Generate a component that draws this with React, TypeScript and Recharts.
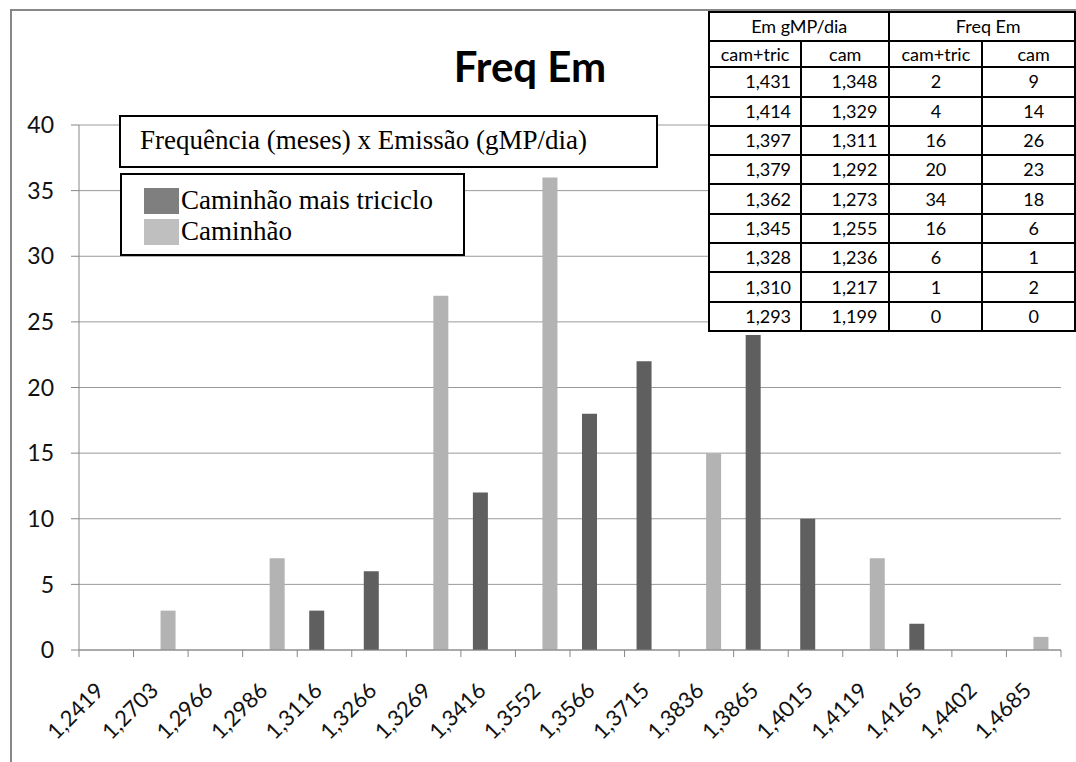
import React from 'react';
import { BarChart, Bar, XAxis, YAxis, CartesianGrid, Legend } from 'recharts';

// emissão (gMP/dia) nas classes do histograma
const categories = [
  '1,2419', '1,2703', '1,2966', '1,2986', '1,3116', '1,3266', '1,3269', '1,3416', '1,3552',
  '1,3566', '1,3715', '1,3836', '1,3865', '1,4015', '1,4119', '1,4165', '1,4402', '1,4685',
];
const camTric = [0, 0, 0, 0, 3, 6, 0, 12, 0, 18, 22, 0, 24, 10, 0, 2, 0, 0];
const cam = [0, 3, 0, 7, 0, 0, 27, 0, 36, 0, 0, 15, 0, 0, 7, 0, 0, 1];
const yTicks = [0, 5, 10, 15, 20, 25, 30, 35, 40];

const seriesNames = ['Caminhão mais triciclo', 'Caminhão'];
const barColors = ['#5f5f5f', '#b3b3b3'];
const swatchColors = ['#7f7f7f', '#bfbfbf'];

// tabela no canto
const emCamTric = ['1,431', '1,414', '1,397', '1,379', '1,362', '1,345', '1,328', '1,310', '1,293'];
const emCam = ['1,348', '1,329', '1,311', '1,292', '1,273', '1,255', '1,236', '1,217', '1,199'];
const freqCamTric = [2, 4, 16, 20, 34, 16, 6, 1, 0];
const freqCam = [9, 14, 26, 23, 18, 6, 1, 2, 0];

const data = categories.map((name, i) => ({ name, camTric: camTric[i], cam: cam[i] }));

const AXIS = '#878787';
const SANS = 'Lato, "Open Sans", sans-serif';
const SERIF = '"Liberation Serif", "Times New Roman", serif';

const CategoryTick = (props: any) => {
  const { x, y, payload, index, visibleTicksCount } = props;
  const half = payload.offset || 0;
  const axisY = y - 8;
  const bx = x - 1;
  const by = axisY + 42;
  return (
    <g>
      <line x1={x - half} x2={x - half} y1={axisY} y2={axisY + 7} stroke={AXIS} />
      {index === visibleTicksCount - 1 && (
        <line x1={x + half} x2={x + half} y1={axisY} y2={axisY + 7} stroke={AXIS} />
      )}
      <text
        x={bx}
        y={by}
        transform={`rotate(-45 ${bx} ${by})`}
        textAnchor="end"
        fontFamily={SANS}
        fontSize={22}
        fill="#111"
      >
        {payload.value}
      </text>
    </g>
  );
};

const LegendBox = () => (
  <div
    style={{
      boxSizing: 'border-box',
      width: 345,
      height: 83,
      border: '2px solid #000',
      background: '#fff',
      paddingTop: 10,
      paddingLeft: 22,
      fontFamily: SERIF,
      fontSize: 27,
      color: '#000',
    }}
  >
    {seriesNames.map((n, i) => (
      <div key={n} style={{ display: 'flex', alignItems: 'center', height: 31, lineHeight: '31px' }}>
        <span style={{ display: 'inline-block', width: 35, height: 26, background: swatchColors[i], marginRight: 2 }} />
        <span>{n}</span>
      </div>
    ))}
  </div>
);

const cell: React.CSSProperties = {
  border: '2px solid #000',
  padding: 0,
  height: 27.3,
  lineHeight: '27px',
};

export default function App() {
  return (
    <div
      style={{
        position: 'absolute',
        left: 0,
        top: 0,
        width: 1076,
        height: 762,
        overflow: 'hidden',
        background: '#fff',
      }}
    >
      {/* moldura do gráfico */}
      <div
        style={{
          position: 'absolute',
          left: 10,
          top: 9,
          width: 1100,
          height: 800,
          borderLeft: `2px solid ${AXIS}`,
          borderTop: `2px solid ${AXIS}`,
        }}
      />
      <div style={{ position: 'absolute', left: 0, top: 0 }}>
        <BarChart
          width={1076}
          height={762}
          data={data}
          margin={{ top: 125, right: 15, bottom: 32, left: 19 }}
          barGap={0}
        >
          <CartesianGrid vertical={false} stroke="#9a9a9a" />
          <XAxis
            dataKey="name"
            interval={0}
            height={80}
            tickLine={false}
            tickSize={8}
            tickMargin={0}
            axisLine={{ stroke: AXIS }}
            tick={<CategoryTick />}
          />
          <YAxis
            width={60}
            domain={[0, 40]}
            ticks={yTicks}
            interval={0}
            tickSize={8}
            tickMargin={17}
            axisLine={{ stroke: AXIS }}
            tickLine={{ stroke: AXIS }}
            tick={{ fontFamily: SANS, fontSize: 23, fill: '#111' }}
          />
          <Legend
            layout="horizontal"
            align="center"
            verticalAlign="middle"
            content={<LegendBox />}
            wrapperStyle={{ left: 120, top: 173, width: 345, height: 83 }}
          />
          <Bar dataKey="camTric" name={seriesNames[0]} fill={barColors[0]} barSize={15} isAnimationActive={false} />
          <Bar dataKey="cam" name={seriesNames[1]} fill={barColors[1]} barSize={15} isAnimationActive={false} />
        </BarChart>
      </div>

      <div
        style={{
          position: 'absolute',
          left: 530,
          top: 45,
          transform: 'translateX(-50%)',
          fontFamily: SANS,
          fontWeight: 700,
          fontSize: 42,
          lineHeight: '42px',
          color: '#000',
          whiteSpace: 'nowrap',
        }}
      >
        Freq Em
      </div>

      <div
        style={{
          position: 'absolute',
          left: 119,
          top: 115,
          width: 539,
          height: 53,
          boxSizing: 'border-box',
          border: '2px solid #000',
          background: '#fff',
          paddingTop: 10,
          paddingLeft: 19,
          fontFamily: SERIF,
          fontSize: 27,
          lineHeight: '26px',
          color: '#000',
          whiteSpace: 'nowrap',
        }}
      >
        Frequência (meses) x Emissão (gMP/dia)
      </div>

      <table
        style={{
          position: 'absolute',
          left: 708,
          top: 11,
          borderCollapse: 'collapse',
          background: '#fff',
          fontFamily: SANS,
          fontSize: 18,
          color: '#000',
          tableLayout: 'fixed',
        }}
      >
        <colgroup>
          <col style={{ width: 94 }} />
          <col style={{ width: 91 }} />
          <col style={{ width: 95 }} />
          <col style={{ width: 97 }} />
        </colgroup>
        <tbody>
          <tr>
            <td colSpan={2} style={{ ...cell, textAlign: 'center' }}>Em gMP/dia</td>
            <td colSpan={2} style={{ ...cell, textAlign: 'center', paddingLeft: 12 }}>Freq Em</td>
          </tr>
          <tr>
            <td style={{ ...cell, height: 24, lineHeight: '24px', textAlign: 'center' }}>cam+tric</td>
            <td style={{ ...cell, height: 24, lineHeight: '24px', textAlign: 'center' }}>cam</td>
            <td style={{ ...cell, height: 24, lineHeight: '24px', textAlign: 'center' }}>cam+tric</td>
            <td style={{ ...cell, height: 24, lineHeight: '24px', textAlign: 'center', paddingLeft: 10 }}>cam</td>
          </tr>
          {emCamTric.map((v, i) => (
            <tr key={v}>
              <td style={{ ...cell, textAlign: 'right', paddingRight: 9 }}>{v}</td>
              <td style={{ ...cell, textAlign: 'right', paddingRight: 11 }}>{emCam[i]}</td>
              <td style={{ ...cell, textAlign: 'center' }}>{freqCamTric[i]}</td>
              <td style={{ ...cell, textAlign: 'center', paddingLeft: 10 }}>{freqCam[i]}</td>
            </tr>
          ))}
        </tbody>
      </table>
    </div>
  );
}
